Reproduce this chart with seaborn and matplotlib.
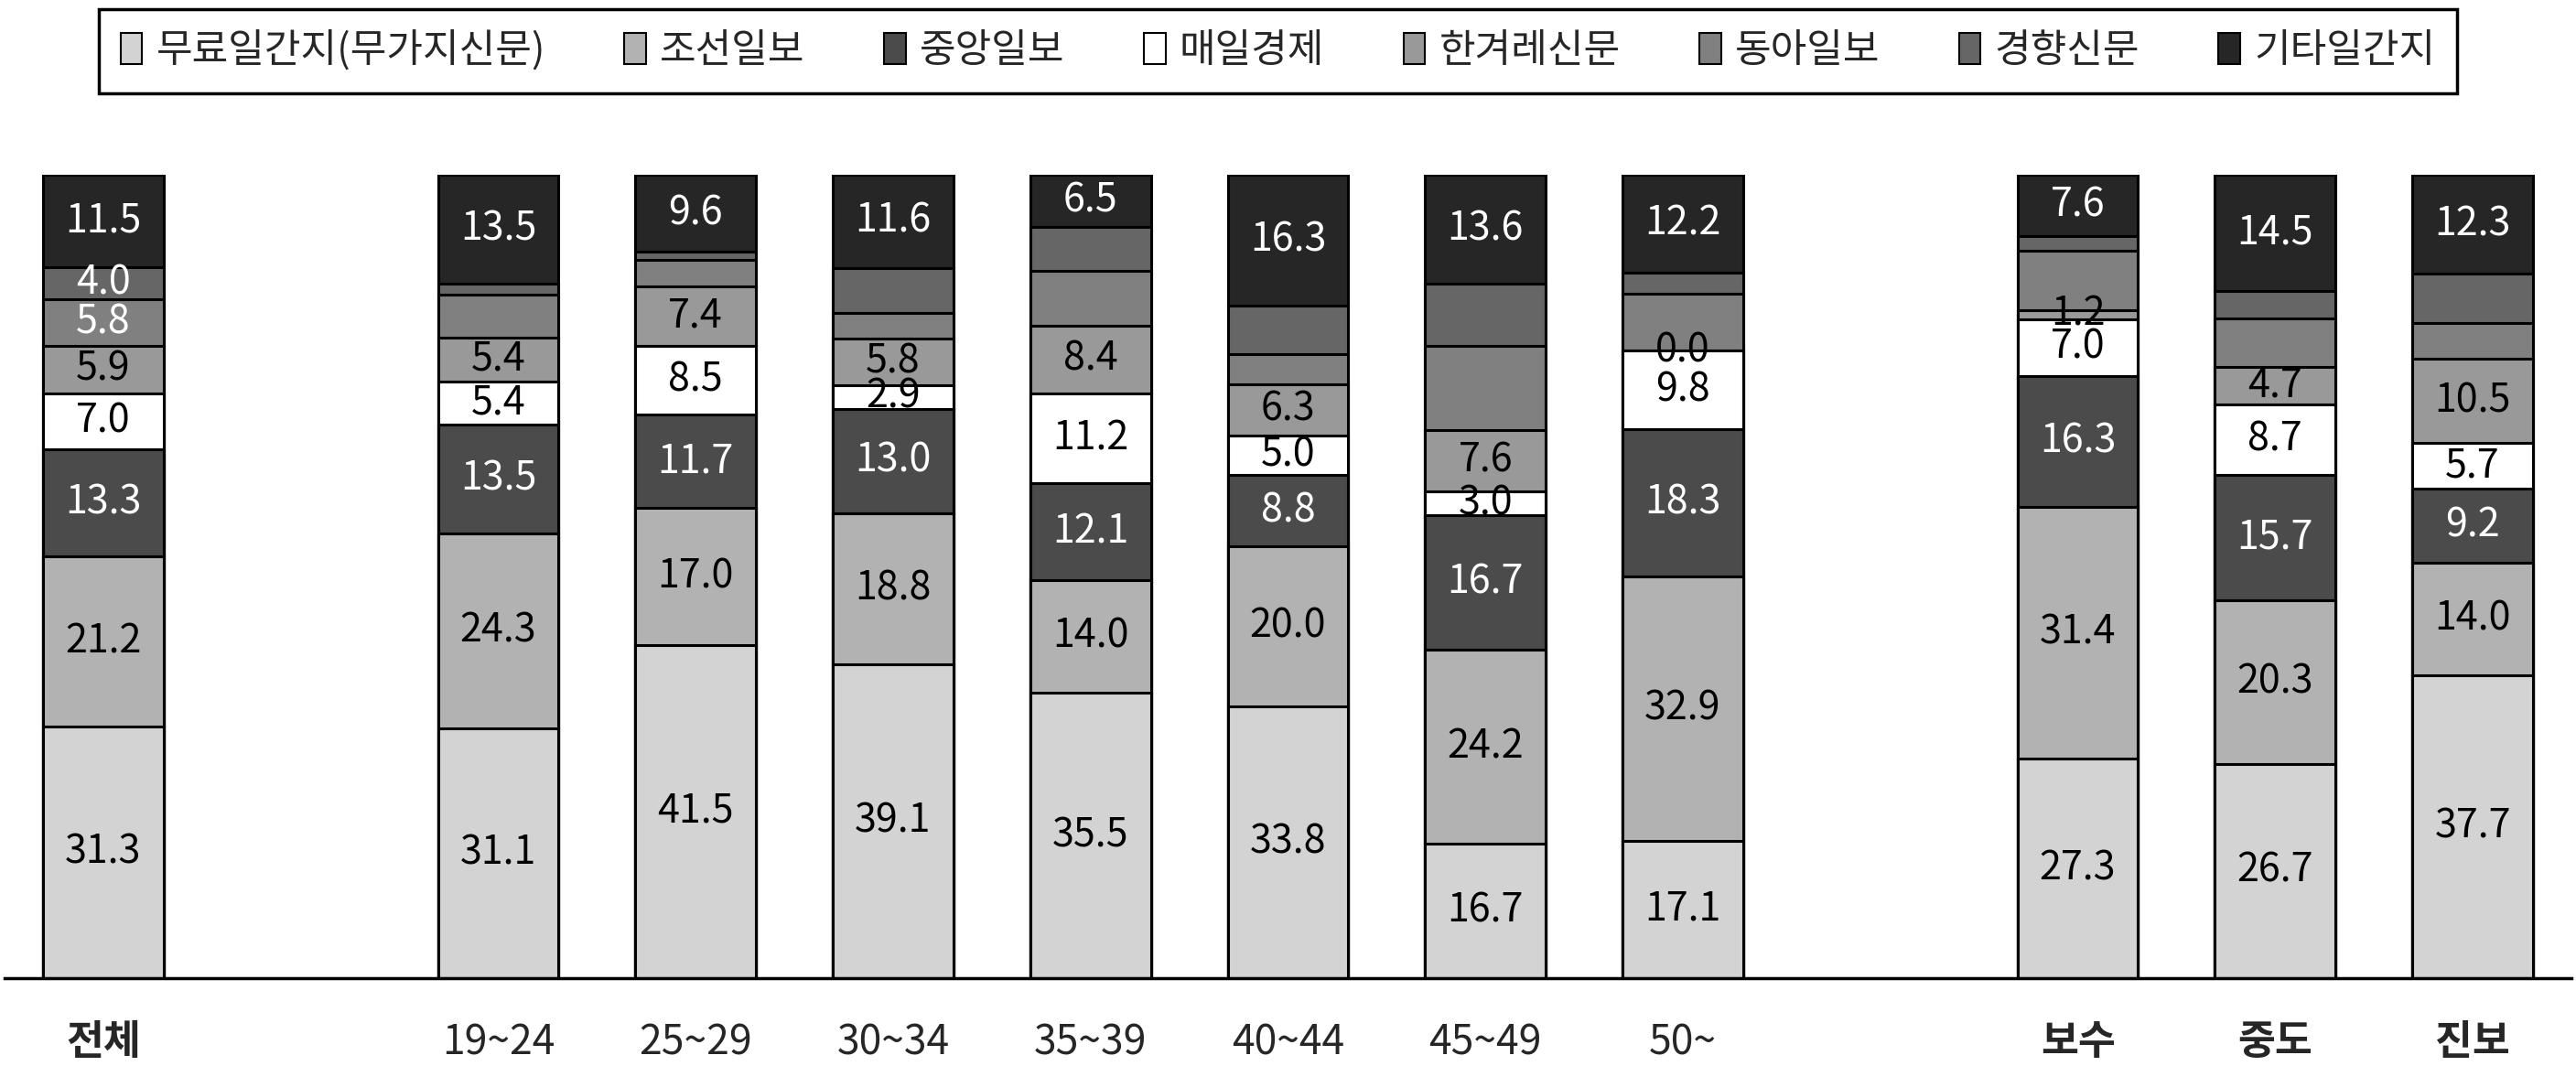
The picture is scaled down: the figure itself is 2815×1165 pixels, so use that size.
import numpy as np
import pandas as pd
import matplotlib
matplotlib.use("Agg")
import matplotlib.pyplot as plt
import seaborn as sns
from matplotlib.patches import Patch

# ---------------- data ----------------
groups = ["전체", "19~24", "25~29", "30~34", "35~39", "40~44", "45~49", "50~", "보수", "중도", "진보"]
slot_order = ["전체", "_gap1", "19~24", "25~29", "30~34", "35~39", "40~44", "45~49", "50~",
              "_gap2", "보수", "중도", "진보"]
tick_labels = ["전체", "", "19~24", "25~29", "30~34", "35~39", "40~44", "45~49", "50~",
               "", "보수", "중도", "진보"]
bold_ticks = ["전체", "보수", "중도", "진보"]

series_names = ["무료일간지(무가지신문)", "조선일보", "중앙일보", "매일경제",
                "한겨레신문", "동아일보", "경향신문", "기타일간지"]
free     = [31.3, 31.1, 41.5, 39.1, 35.5, 33.8, 16.7, 17.1, 27.3, 26.7, 37.7]
chosun   = [21.2, 24.3, 17.0, 18.8, 14.0, 20.0, 24.2, 32.9, 31.4, 20.3, 14.0]
joongang = [13.3, 13.5, 11.7, 13.0, 12.1, 8.8, 16.7, 18.3, 16.3, 15.7, 9.2]
maeil    = [7.0, 5.4, 8.5, 2.9, 11.2, 5.0, 3.0, 9.8, 7.0, 8.7, 5.7]
hani     = [5.9, 5.4, 7.4, 5.8, 8.4, 6.3, 7.6, 0.0, 1.2, 4.7, 10.5]
donga    = [5.8, 5.4, 3.3, 3.2, 6.8, 3.8, 10.5, 7.1, 7.3, 6.0, 4.4]
khan     = [4.0, 1.4, 1.0, 5.6, 5.5, 6.0, 7.7, 2.6, 1.9, 3.4, 6.2]
other    = [11.5, 13.5, 9.6, 11.6, 6.5, 16.3, 13.6, 12.2, 7.6, 14.5, 12.3]
series_values = [free, chosun, joongang, maeil, hani, donga, khan, other]

# series whose values are printed only on the "전체" bar
total_only_series = ["동아일보", "경향신문"]

# ---------------- style ----------------
colors = ["#d3d3d3", "#b2b2b2", "#4b4b4b", "#ffffff", "#999999", "#808080", "#666666", "#262626"]
text_colors = ["black", "black", "white", "black", "black", "white", "white", "white"]

sns.set_style("white")
plt.rcParams["font.family"] = ["Noto Sans CJK KR", "DejaVu Sans"]

fig = plt.figure(figsize=(28.15, 11.65), dpi=100)
ax = fig.add_axes([0.0018, 0.0824, 0.9964, 0.7536])

df = pd.DataFrame({"group": groups})
vals = np.array(series_values)          # shape (8, 11)
cum = np.cumsum(vals, axis=0)

# stacked bars: draw cumulative totals from the top layer down
for i in reversed(range(len(series_names))):
    df["cum"] = cum[i]
    sns.barplot(data=df, x="group", y="cum", order=slot_order, color=colors[i],
                saturation=1, edgecolor="black", linewidth=2.2, width=0.61,
                errorbar=None, ax=ax)

# value labels
for g, grp in enumerate(groups):
    xpos = slot_order.index(grp)
    for i, name in enumerate(series_names):
        if name in total_only_series and grp != "전체":
            continue
        v = vals[i, g]
        bottom = cum[i, g] - v
        ax.text(xpos, bottom + v / 2, f"{v:.1f}", ha="center", va="center",
                fontsize=31, color=text_colors[i])

# axes styling
ax.set_xlim(-0.5, 12.5)
ax.set_ylim(0, 100)
ax.set_xlabel("")
ax.set_ylabel("")
ax.set_yticks([])
for s in ["left", "right", "top"]:
    ax.spines[s].set_visible(False)
ax.spines["bottom"].set_linewidth(2.5)
ax.spines["bottom"].set_color("black")

ax.set_xticks(range(len(slot_order)))
ax.set_xticklabels(tick_labels)
ax.tick_params(axis="x", which="major", length=0, pad=34, labelsize=32)
for lbl in ax.get_xticklabels():
    if lbl.get_text() in bold_ticks:
        lbl.set_fontweight("bold")
        lbl.set_fontsize(32)
ax.set_xticks(np.arange(-0.5, 13, 1), minor=True)
ax.tick_params(axis="x", which="minor", length=16, width=1.5, color="black", direction="out")

# legend
handles = [Patch(facecolor=c, edgecolor="black", linewidth=1.5) for c in colors]
leg = fig.legend(handles, series_names, loc="upper left",
                 bbox_to_anchor=(108 / 2815, 1 - 10 / 1165, (2685 - 108) / 2815, 0.0),
                 mode="expand", ncol=8, fontsize=31, frameon=True, fancybox=False,
                 edgecolor="black", framealpha=1, borderpad=0.55,
                 handlelength=0.55, handleheight=0.85, handletextpad=0.35,
                 columnspacing=0.6, borderaxespad=0)
leg.get_frame().set_linewidth(2.5)

fig.savefig("out.png", dpi=100, facecolor="white")
